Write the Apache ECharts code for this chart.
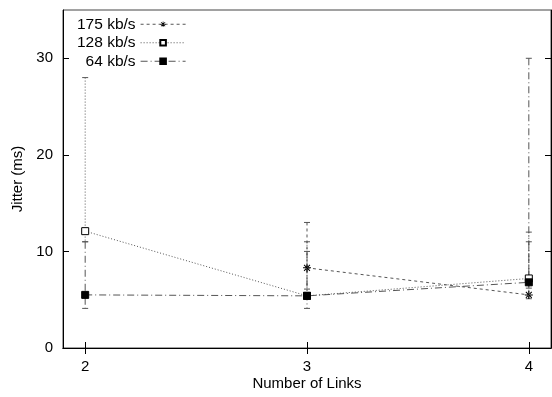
<!DOCTYPE html>
<html>
<head>
<meta charset="utf-8">
<script src="https://cdn.jsdelivr.net/npm/echarts@6/dist/echarts.min.js"></script>
<style>
  html, body { margin: 0; padding: 0; background: #fff; }
  #chart { width: 552px; height: 397px; }
</style>
</head>
<body>
<div id="chart"></div>
<script>
// Number of links on the x axis
const links = [2, 3, 4];
const seriesNames = ['175 kb/s', '128 kb/s', '64 kb/s'];

// Mean jitter (ms) per link count; null = not measured
const jitter175 = [null, 8.3, 5.5];
const jitter128 = [12.1, 5.4, 7.2];
const jitter64  = [5.5, 5.4, 6.8];

// Error bar ranges (low / high, ms)
const low175  = [null, 6.1, 5.1];
const high175 = [null, 13, 11];
const low128  = [11, 5.1, 6.6];
const high128 = [28, 11, 12];
const low64   = [4.1, 4.1, 6.2];
const high64  = [11, 10, 30];

// Axis ticks
const xTicks = [2, 3, 4];
const yTicks = [0, 10, 20, 30];

const FONT = 'Liberation Sans, Arial, sans-serif';
const LINE = '#555';

const dash175 = [3, 3];
const dash128 = [1, 2];
const dash64  = [7, 3, 1, 3];

// asterisk marker drawn as thin filled bars so it shows with fill or stroke
const starPath = 'path://M-4,-0.5L4,-0.5L4,0.5L-4,0.5ZM-0.5,-4L0.5,-4L0.5,4L-0.5,4Z' +
  'M-3.3,-2.6L-2.6,-3.3L3.3,2.6L2.6,3.3ZM-3.3,2.6L-2.6,3.3L3.3,-2.6L2.6,-3.3Z';

function points(values) {
  return links.map((x, i) => values[i] == null ? null : [x, values[i]]).filter(Boolean);
}

function errorBars(name, lo, hi, dash) {
  return {
    type: 'custom',
    name: name + ' error',
    silent: true,
    z: 1,
    encode: { x: 0, y: [1, 2] },
    data: links.map((x, i) => lo[i] == null ? null : [x, lo[i], hi[i]]).filter(Boolean),
    renderItem(params, api) {
      const x = api.value(0);
      const top = api.coord([x, api.value(2)]);
      const bot = api.coord([x, api.value(1)]);
      const w = 3;
      const st = { stroke: LINE, lineWidth: 1 };
      return {
        type: 'group',
        children: [
          { type: 'line', shape: { x1: top[0], y1: top[1], x2: bot[0], y2: bot[1] },
            style: Object.assign({ lineDash: dash }, st) },
          { type: 'line', shape: { x1: top[0] - w, y1: top[1], x2: top[0] + w, y2: top[1] }, style: st },
          { type: 'line', shape: { x1: bot[0] - w, y1: bot[1], x2: bot[0] + w, y2: bot[1] }, style: st }
        ]
      };
    }
  };
}

function lineSeries(name, values, dash, symbol, size, fill, border) {
  return {
    type: 'line',
    name: name,
    data: points(values),
    symbol: symbol,
    symbolSize: size,
    z: 3,
    lineStyle: { color: LINE, width: 1, type: dash },
    itemStyle: { color: fill, borderColor: '#000', borderWidth: border }
  };
}

const chart = echarts.init(document.getElementById('chart'), null, { renderer: 'canvas' });

const axisLine = { show: true, lineStyle: { color: '#000', width: 1 } };
const tick = { inside: true, length: 6, lineStyle: { color: '#000' } };

chart.setOption({
  animation: false,
  backgroundColor: '#fff',
  textStyle: { fontFamily: FONT },
  grid: {
    left: 63, right: 1, top: 10, bottom: 49,
    outerBoundsMode: 'none', containLabel: false,
    show: true, borderColor: '#444', borderWidth: 1
  },
  legend: {
    data: seriesNames,
    orient: 'vertical',
    align: 'right',
    left: 72,
    top: 10,
    itemGap: 0,
    itemWidth: 45,
    itemHeight: 7,
    lineStyle: { width: 1, color: LINE },
    textStyle: { fontSize: 15.5, color: '#000', fontFamily: FONT, lineHeight: 18.5 }
  },
  xAxis: [
    {
      type: 'value', min: 1.9, max: 4.1, position: 'bottom',
      name: 'Number of Links', nameLocation: 'middle', nameGap: 28, nameMoveOverlap: false,
      nameTextStyle: { fontSize: 15, color: '#000', fontFamily: FONT },
      axisLine: axisLine,
      axisTick: Object.assign({ customValues: xTicks }, tick),
      axisLabel: { customValues: xTicks, fontSize: 15, color: '#000', margin: 11, fontFamily: FONT },
      splitLine: { show: false }
    },
    {
      type: 'value', min: 1.9, max: 4.1, position: 'top',
      axisLine: axisLine,
      axisTick: Object.assign({ customValues: xTicks }, tick),
      axisLabel: { show: false },
      splitLine: { show: false }
    }
  ],
  yAxis: [
    {
      type: 'value', min: 0, max: 35, position: 'left',
      name: 'Jitter (ms)', nameLocation: 'middle', nameGap: 38, nameRotate: 90, nameMoveOverlap: false,
      nameTextStyle: { fontSize: 15, color: '#000', fontFamily: FONT },
      axisLine: axisLine,
      axisTick: Object.assign({ customValues: yTicks }, tick),
      axisLabel: { customValues: yTicks, fontSize: 15, color: '#000', margin: 10, fontFamily: FONT },
      splitLine: { show: false }
    },
    {
      type: 'value', min: 0, max: 35, position: 'right',
      axisLine: axisLine,
      axisTick: Object.assign({ customValues: yTicks }, tick),
      axisLabel: { show: false },
      splitLine: { show: false }
    }
  ],
  series: [
    errorBars(seriesNames[0], low175, high175, dash175),
    errorBars(seriesNames[1], low128, high128, dash128),
    errorBars(seriesNames[2], low64, high64, dash64),
    lineSeries(seriesNames[0], jitter175, dash175, starPath, 8, '#000', 0),
    lineSeries(seriesNames[1], jitter128, dash128, 'rect', 7, '#fff', 1),
    lineSeries(seriesNames[2], jitter64, dash64, 'rect', 7, '#000', 1)
  ]
});
</script>
</body>
</html>
